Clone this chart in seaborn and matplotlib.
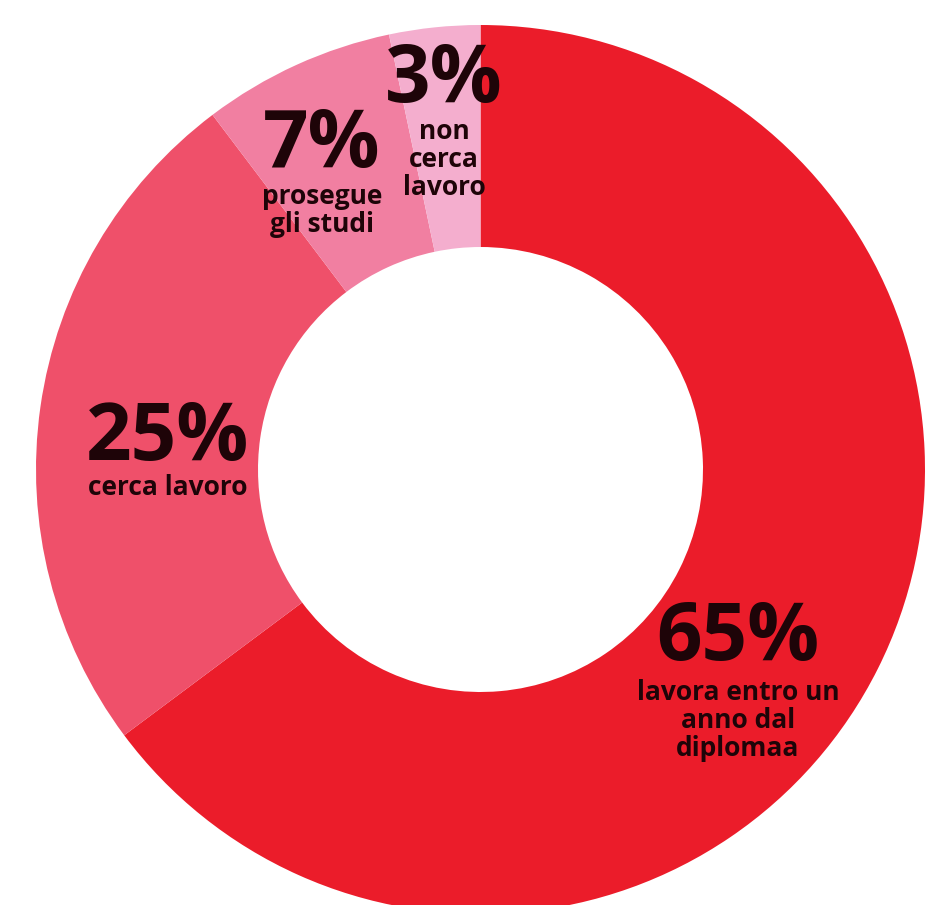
import matplotlib
matplotlib.use("Agg")
import matplotlib.pyplot as plt
import seaborn as sns

categories = ["lavora entro un\nanno dal\ndiplomaa", "cerca lavoro", "prosegue\ngli studi", "non\ncerca\nlavoro"]
values = [64.8, 24.9, 7.0, 3.3]
pct_labels = ["65%", "25%", "7%", "3%"]
colors = ["#EB1C2A", "#EF506A", "#F17FA1", "#F4AECE"]

sns.set_theme(style="white")
plt.rcParams['font.family'] = ['Open Sans', 'DejaVu Sans']

W, H = 946, 905
fig = plt.figure(figsize=(W / 100, H / 100), dpi=100)
ax = fig.add_axes([0, 0, 1, 1])

cx, cy = 480.5, H - 469.5
R, r = 444.5, 222.5
ax.pie(values, colors=colors, startangle=90, counterclock=False,
       center=(cx, cy), radius=R,
       wedgeprops=dict(width=R - r, linewidth=0))
ax.set_xlim(0, W)
ax.set_ylim(0, H)
ax.set_aspect('equal')
ax.axis('off')

txt = "#1E0408"
# (x center, baseline of big number, top of small text) in pixel coords
pos = [(738, 660, 679), (168, 460, 474), (322, 167, 183), (444, 102, 118)]
for (x, yb, ys), p, c in zip(pos, pct_labels, categories):
    ax.text(x, H - yb, p, ha='center', va='baseline', fontsize=57.5,
            fontweight='bold', color=txt)
    ax.text(x, H - ys, c, ha='center', va='top', fontsize=19,
            fontweight='bold', color=txt, linespacing=1.04)

fig.savefig("out.png", dpi=100)
